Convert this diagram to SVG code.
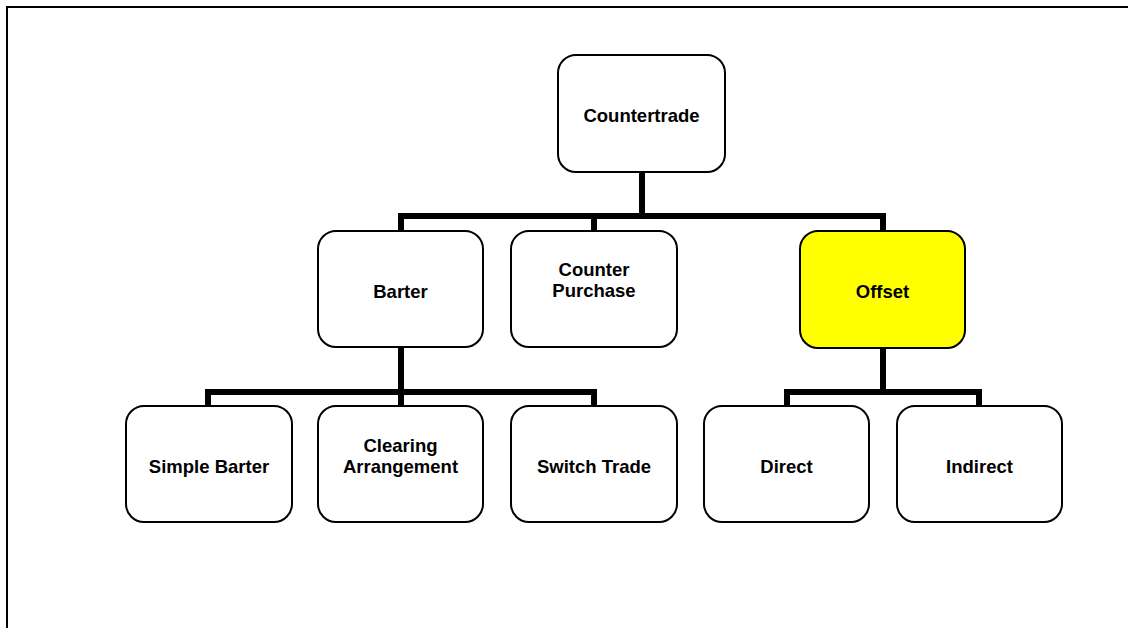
<svg xmlns="http://www.w3.org/2000/svg" width="1128" height="628" viewBox="0 0 1128 628">
  <style>
    .box { fill: #ffffff; stroke: #000000; stroke-width: 2; }
    .hl { fill: #ffff00; }
    .lbl { font-family: "Liberation Sans", Arial, sans-serif; font-weight: bold; font-size: 18.5px; fill: #000000; text-anchor: middle; }
    .wire { fill: none; stroke: #000000; stroke-width: 6; stroke-linejoin: miter; stroke-linecap: butt; }
    .frame { fill: none; stroke: #000000; stroke-width: 2; }
  </style>
  <rect width="1128" height="628" fill="#ffffff"/>
  <!-- page frame: top and left edges only -->
  <path class="frame" d="M7 628 V7 H1128"/>

  <g id="connectors">
    <!-- root to second level -->
    <path class="wire" d="M642 172 V216"/>
    <path class="wire" d="M398 216 H886"/>
    <path class="wire" d="M401 216 V231"/>
    <path class="wire" d="M594 216 V231"/>
    <path class="wire" d="M883 216 V231"/>
    <!-- Barter to its children -->
    <path class="wire" d="M401 347 V392"/>
    <path class="wire" d="M208 406 V392 H594 V406"/>
    <path class="wire" d="M401 392 V406"/>
    <!-- Offset to its children -->
    <path class="wire" d="M883 348 V392"/>
    <path class="wire" d="M787 406 V392 H979 V406"/>
  </g>

  <g id="countertrade">
    <rect class="box" x="558" y="55" width="167" height="117" rx="18"/>
    <text class="lbl" x="641.5" y="122">Countertrade</text>
  </g>
  <g id="barter">
    <rect class="box" x="318" y="231" width="165" height="116" rx="18"/>
    <text class="lbl" x="400.5" y="298">Barter</text>
  </g>
  <g id="counter-purchase">
    <rect class="box" x="511" y="231" width="166" height="116" rx="18"/>
    <text class="lbl" x="594" y="276">Counter</text>
    <text class="lbl" x="594" y="297">Purchase</text>
  </g>
  <g id="offset">
    <rect class="box hl" x="800" y="231" width="165" height="117" rx="18"/>
    <text class="lbl" x="882.5" y="298">Offset</text>
  </g>
  <g id="simple-barter">
    <rect class="box" x="126" y="406" width="166" height="116" rx="18"/>
    <text class="lbl" x="209" y="473">Simple Barter</text>
  </g>
  <g id="clearing-arrangement">
    <rect class="box" x="318" y="406" width="165" height="116" rx="18"/>
    <text class="lbl" x="400.5" y="452">Clearing</text>
    <text class="lbl" x="400.5" y="473">Arrangement</text>
  </g>
  <g id="switch-trade">
    <rect class="box" x="511" y="406" width="166" height="116" rx="18"/>
    <text class="lbl" x="594" y="473">Switch Trade</text>
  </g>
  <g id="direct">
    <rect class="box" x="704" y="406" width="165" height="116" rx="18"/>
    <text class="lbl" x="786.5" y="473">Direct</text>
  </g>
  <g id="indirect">
    <rect class="box" x="897" y="406" width="165" height="116" rx="18"/>
    <text class="lbl" x="979.5" y="473">Indirect</text>
  </g>
</svg>
